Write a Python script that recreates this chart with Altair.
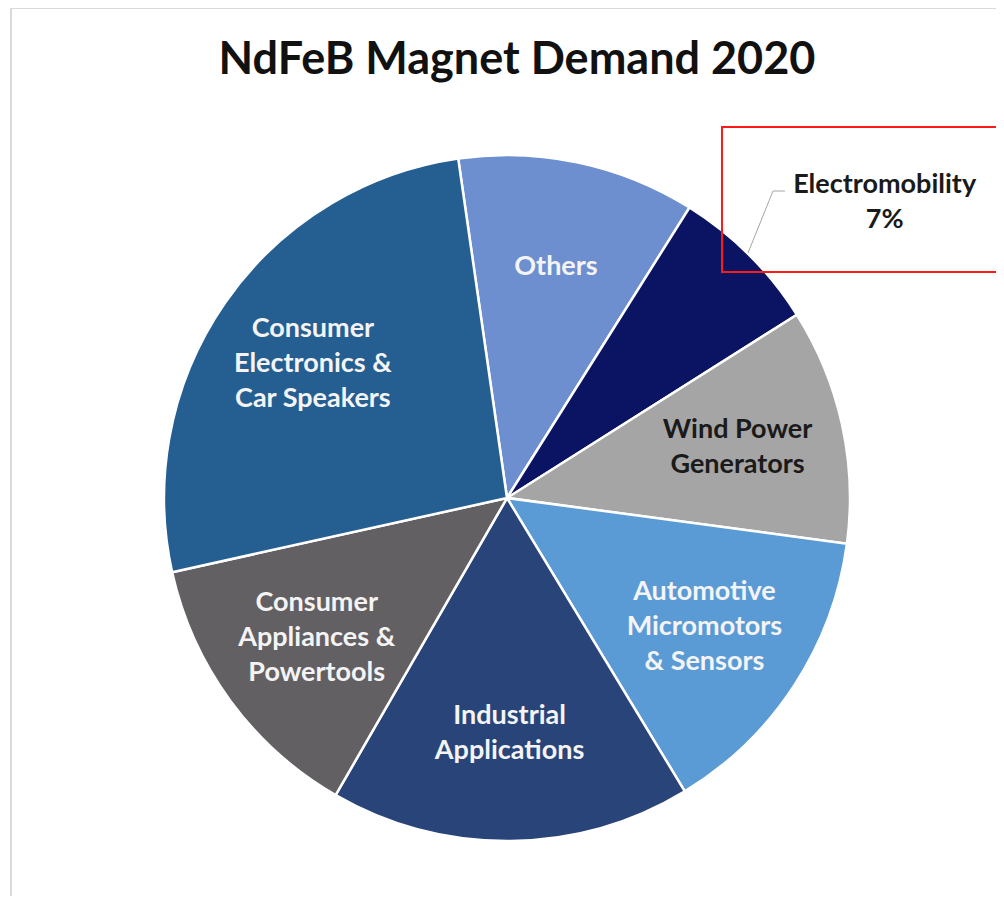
import altair as alt
import pandas as pd

categories = [
    "Others",
    "Electromobility",
    "Wind Power Generators",
    "Automotive Micromotors & Sensors",
    "Industrial Applications",
    "Consumer Appliances & Powertools",
    "Consumer Electronics & Car Speakers",
]
shares = [11.2, 7.1, 11.1, 14.2, 17.0, 13.2, 26.2]
labels = [
    "Others",
    "Electromobility\n7%",
    "Wind Power\nGenerators",
    "Automotive\nMicromotors\n& Sensors",
    "Industrial\nApplications",
    "Consumer\nAppliances &\nPowertools",
    "Consumer\nElectronics &\nCar Speakers",
]
colors = ["#6D8ECF", "#0B1462", "#A5A5A5", "#5B9BD5", "#294479", "#636064", "#255E91"]
title_text = "NdFeB Magnet Demand 2020"

df = pd.DataFrame({
    "cat": categories,
    "share": shares,
    "label": labels,
    "idx": list(range(len(categories))),
})

CX, CY, R = 499, 490, 343
start = 6.1404
TWO_PI = 6.283185
FS, LH = 27, 35

theta = alt.Theta("share:Q", stack=True, scale=alt.Scale(range=[start, start + TWO_PI]))
order = alt.Order("idx:Q")

base = alt.Chart(df).transform_calculate(nlines="split(datum.label, '\\n').length")
is_em = alt.datum.cat == "Electromobility"

pie = base.mark_arc(outerRadius=R, stroke="white", strokeWidth=2.5).encode(
    theta=theta,
    order=order,
    color=alt.Color("cat:N", scale=alt.Scale(domain=categories, range=colors), legend=None),
    x=alt.value(CX),
    y=alt.value(CY),
)


def inside_layer(n):
    show = (alt.datum.nlines == n) & (alt.datum.cat != "Electromobility")
    return base.mark_text(
        radius=236, dy=-(n - 1) * LH / 2, font="Lato", fontSize=FS, fontWeight="bold",
        lineBreak="\n", lineHeight=LH, align="center", baseline="middle",
    ).encode(
        theta=theta,
        order=order,
        text="label:N",
        color=alt.condition(alt.datum.cat == "Wind Power Generators",
                            alt.value("#1A1A1A"), alt.value("#F4F4F4")),
        opacity=alt.condition(show, alt.value(1), alt.value(0)),
        x=alt.value(CX),
        y=alt.value(CY),
    )


outside = base.mark_text(
    radius=430, dx=74, dy=-9, font="Lato", fontSize=FS, fontWeight="bold", lineBreak="\n",
    lineHeight=LH, align="center", baseline="middle", color="#1A1A1A",
).encode(
    theta=theta,
    order=order,
    text="label:N",
    opacity=alt.condition(is_em, alt.value(1), alt.value(0)),
    x=alt.value(CX),
    y=alt.value(CY),
)

one = pd.DataFrame({"k": [0]})
ann = alt.Chart(one)

leader1 = ann.mark_rule(color="#A6A6A6", strokeWidth=1).encode(
    x=alt.value(777), x2=alt.value(765), y=alt.value(183), y2=alt.value(183))
leader2 = ann.mark_rule(color="#A6A6A6", strokeWidth=1).encode(
    x=alt.value(765), x2=alt.value(740), y=alt.value(183), y2=alt.value(245))

redbox = ann.mark_rect(fillOpacity=0, stroke="#FF1A1A", strokeWidth=2).encode(
    x=alt.value(714), x2=alt.value(1010), y=alt.value(119), y2=alt.value(264))

frame = ann.mark_rect(fillOpacity=0, stroke="#DADADA", strokeWidth=2).encode(
    x=alt.value(3), x2=alt.value(1010), y=alt.value(0), y2=alt.value(920))

title = ann.mark_text(font="Lato", fontSize=45, fontWeight="bold", color="#111111",
                      align="center", baseline="alphabetic").encode(
    text=alt.value(title_text), x=alt.value(509), y=alt.value(66))

chart = alt.layer(
    frame, pie, inside_layer(1), inside_layer(2), inside_layer(3), outside,
    leader1, leader2, redbox, title,
).properties(
    width=988, height=888, autosize=alt.AutoSizeParams(type="none"), padding=0,
).configure_view(stroke=None)

chart.save("out.html", embed_options={"renderer": "svg", "actions": False})
